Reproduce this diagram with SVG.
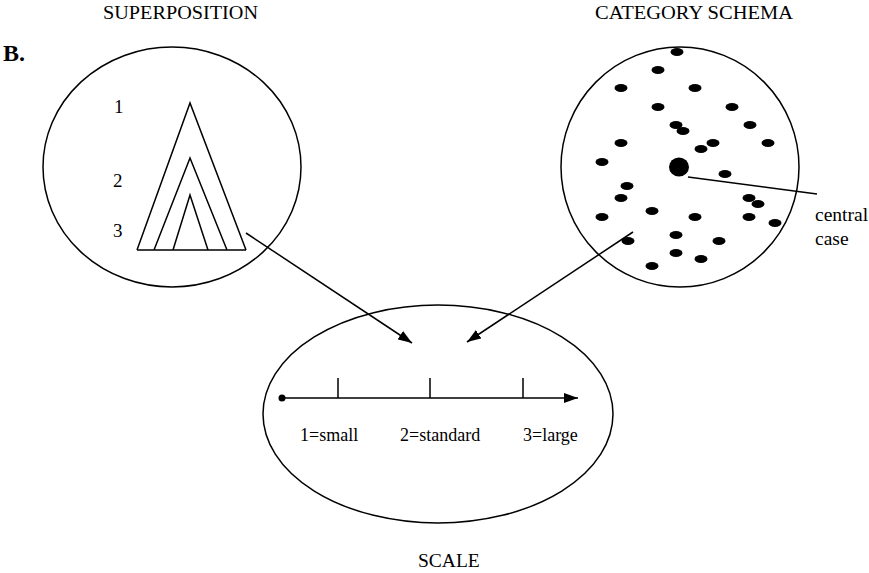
<svg xmlns="http://www.w3.org/2000/svg" width="869" height="573" viewBox="0 0 869 573" font-family="'Liberation Serif', 'DejaVu Serif', serif" font-size="18">
<style>
.t{font-family:'Liberation Serif','DejaVu Serif',serif;font-size:18px;fill:#000}
.h{font-size:19.5px}
.n{font-size:19px}
.o{fill:none;stroke:#000;stroke-width:1.5}
.d{fill:#000}
</style>
<defs>
<marker id="ah" viewBox="0 0 14 10" refX="14" refY="5" markerWidth="14" markerHeight="10" markerUnits="userSpaceOnUse" orient="auto">
<path d="M0,0 L14,5 L0,10 z" fill="#000"/>
</marker>
</defs>
<rect width="869" height="573" fill="#fff"/>
<text class="t" x="3" y="61" font-weight="bold" style="font-size:24px">B.</text>
<g id="superposition">
<text class="t h" x="103" y="19" textLength="155" lengthAdjust="spacingAndGlyphs">SUPERPOSITION</text>
<ellipse class="o" cx="172" cy="167" rx="129" ry="120"/>
<path class="o" d="M137,250 L246,250 M137,250 L190,103 L246,250 M154,250 L190,158 L227,250 M173,250 L190,195 L208,250"/>
<text class="t n" x="114" y="113">1</text>
<text class="t n" x="113" y="187">2</text>
<text class="t n" x="113" y="237">3</text>
</g>
<g id="category-schema">
<text class="t h" x="595" y="19" textLength="198" lengthAdjust="spacingAndGlyphs">CATEGORY SCHEMA</text>
<ellipse class="o" cx="680" cy="167" rx="119" ry="120"/>
<g class="d">
<ellipse cx="677" cy="52" rx="6.5" ry="4"/>
<ellipse cx="658" cy="70" rx="6.5" ry="4"/>
<ellipse cx="621" cy="88" rx="6.5" ry="4"/>
<ellipse cx="695" cy="88" rx="6.5" ry="4"/>
<ellipse cx="658" cy="107" rx="6.5" ry="4"/>
<ellipse cx="732" cy="107" rx="6.5" ry="4"/>
<ellipse cx="676" cy="125" rx="6.5" ry="4"/>
<ellipse cx="683" cy="131" rx="6.5" ry="4"/>
<ellipse cx="750" cy="125" rx="6.5" ry="4"/>
<ellipse cx="621" cy="143" rx="6.5" ry="4"/>
<ellipse cx="713" cy="143" rx="6.5" ry="4"/>
<ellipse cx="701" cy="149" rx="6.5" ry="4"/>
<ellipse cx="768" cy="143" rx="6.5" ry="4"/>
<ellipse cx="602" cy="162" rx="6.5" ry="4"/>
<ellipse cx="679" cy="167" rx="10" ry="9.5"/>
<ellipse cx="725" cy="174" rx="6.5" ry="4"/>
<ellipse cx="627" cy="186" rx="6.5" ry="4"/>
<ellipse cx="621" cy="198" rx="6.5" ry="4"/>
<ellipse cx="749" cy="198" rx="6.5" ry="4"/>
<ellipse cx="758" cy="204" rx="6.5" ry="4"/>
<ellipse cx="652" cy="211" rx="6.5" ry="4"/>
<ellipse cx="602" cy="217" rx="6.5" ry="4"/>
<ellipse cx="695" cy="217" rx="6.5" ry="4"/>
<ellipse cx="749" cy="217" rx="6.5" ry="4"/>
<ellipse cx="775" cy="223" rx="6.5" ry="4"/>
<ellipse cx="628" cy="241" rx="6.5" ry="4"/>
<ellipse cx="676" cy="235" rx="6.5" ry="4"/>
<ellipse cx="719" cy="241" rx="6.5" ry="4"/>
<ellipse cx="676" cy="253" rx="6.5" ry="4"/>
<ellipse cx="701" cy="259" rx="6.5" ry="4"/>
<ellipse cx="652" cy="266" rx="6.5" ry="4"/>
</g>
<line class="o" x1="688" y1="177" x2="817" y2="194"/>
<text class="t h" x="815" y="221">central</text>
<text class="t h" x="815" y="245">case</text>
</g>
<g id="scale">
<ellipse class="o" cx="438" cy="414" rx="175" ry="109"/>
<circle class="d" cx="282" cy="398" r="3.5"/>
<line class="o" x1="282" y1="398" x2="578" y2="398" marker-end="url(#ah)"/>
<path class="o" d="M338,378 V398 M430,378 V398 M523,378 V398"/>
<text class="t" x="300" y="441">1=small</text>
<text class="t" x="400" y="441">2=standard</text>
<text class="t" x="523" y="441">3=large</text>
<text class="t h" x="418" y="567">SCALE</text>
</g>
<g id="connectors">
<line class="o" x1="246" y1="233" x2="412" y2="343" marker-end="url(#ah)"/>
<line class="o" x1="633" y1="232" x2="467" y2="342" marker-end="url(#ah)"/>
</g>
</svg>
